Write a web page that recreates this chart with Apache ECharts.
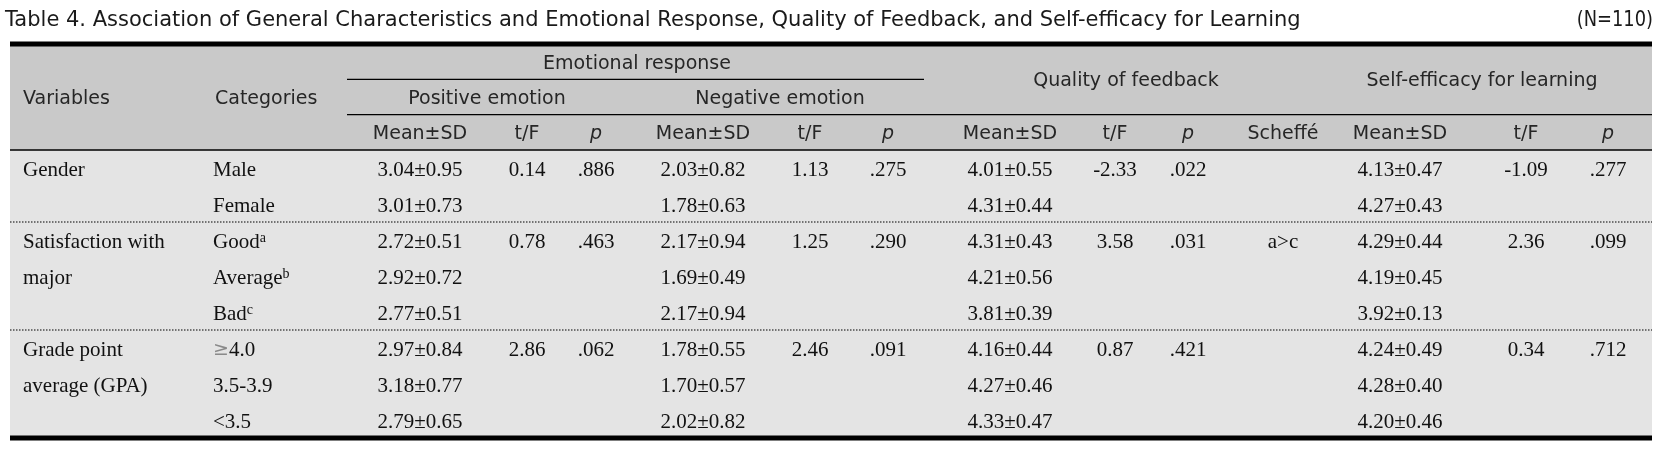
<!DOCTYPE html>
<html>
<head>
<meta charset="utf-8">
<script src="https://cdn.jsdelivr.net/npm/echarts@6/dist/echarts.min.js"></script>
<style>
  html, body { margin: 0; padding: 0; background: #fff; }
  #chart { width: 1660px; height: 454px; }
</style>
</head>
<body>
<div id="chart"></div>
<script>
// ---- table content ----
const titleText = 'Table 4. Association of General Characteristics and Emotional Response, Quality of Feedback, and Self-efficacy for Learning';
const sampleText = '(N=110)';

const variables = [['Gender'], ['Satisfaction with', 'major'], ['Grade point', 'average (GPA)']];
const variableStart = [0, 2, 5];
const categories = ['Male', 'Female', 'Good', 'Average', 'Bad', '\u22654.0', '3.5-3.9', '<3.5'];
const categorySup = ['', '', 'a', 'b', 'c', '', '', ''];

const posMean = ['3.04±0.95', '3.01±0.73', '2.72±0.51', '2.92±0.72', '2.77±0.51', '2.97±0.84', '3.18±0.77', '2.79±0.65'];
const posT = ['0.14', '', '0.78', '', '', '2.86', '', ''];
const posP = ['.886', '', '.463', '', '', '.062', '', ''];
const negMean = ['2.03±0.82', '1.78±0.63', '2.17±0.94', '1.69±0.49', '2.17±0.94', '1.78±0.55', '1.70±0.57', '2.02±0.82'];
const negT = ['1.13', '', '1.25', '', '', '2.46', '', ''];
const negP = ['.275', '', '.290', '', '', '.091', '', ''];
const fbMean = ['4.01±0.55', '4.31±0.44', '4.31±0.43', '4.21±0.56', '3.81±0.39', '4.16±0.44', '4.27±0.46', '4.33±0.47'];
const fbT = ['-2.33', '', '3.58', '', '', '0.87', '', ''];
const fbP = ['.022', '', '.031', '', '', '.421', '', ''];
const scheffe = ['', '', 'a>c', '', '', '', '', ''];
const seMean = ['4.13±0.47', '4.27±0.43', '4.29±0.44', '4.19±0.45', '3.92±0.13', '4.24±0.49', '4.28±0.40', '4.20±0.46'];
const seT = ['-1.09', '', '2.36', '', '', '0.34', '', ''];
const seP = ['.277', '', '.099', '', '', '.712', '', ''];

const subHeaders = ['Mean±SD', 't/F', 'p', 'Mean±SD', 't/F', 'p', 'Mean±SD', 't/F', 'p', 'Scheffé', 'Mean±SD', 't/F', 'p'];
const groupHeaders = ['Emotional response', 'Positive emotion', 'Negative emotion', 'Quality of feedback', 'Self-efficacy for learning'];

// ---- layout (x in px along a hidden value axis) ----
const X_MIN = 10, X_MAX = 1652;
const VAR_X = 23, CAT_X = 213;
const COL_X = [420, 527, 596, 703, 810, 888, 1010, 1115, 1188, 1283, 1400, 1526, 1608];
const GROUP_POS = [[637, 0.5], [487, 1.5], [780, 1.5], [1126, 1.0], [1482, 1.0]];
const SANS = '"DejaVu Sans", "Liberation Sans", sans-serif';
const SERIF = '"Liberation Serif", "Times New Roman", serif';
const HEAD_COLOR = '#262626';
const BODY_COLOR = '#111';
const TEXT_DY = 2; // text sits a touch below the row middle

const bodyCols = [posMean, posT, posP, negMean, negT, negP, fbMean, fbT, fbP, scheffe, seMean, seT, seP];

// header cells
const headCells = [];
headCells.push({ value: [VAR_X, 1.5], text: 'Variables', align: 'left' });
headCells.push({ value: [CAT_X + 2, 1.5], text: 'Categories', align: 'left' });
groupHeaders.forEach((g, i) => headCells.push({ value: GROUP_POS[i], text: g, align: 'center' }));
subHeaders.forEach((s, i) => headCells.push({ value: [COL_X[i], 2.5], text: s, align: 'center', italic: s === 'p' }));

// body cells
const bodyCells = [];
variables.forEach((lines, i) => {
  lines.forEach((ln, j) => bodyCells.push({ value: [VAR_X, variableStart[i] + j + 0.5], text: ln, align: 'left' }));
});
categories.forEach((c, r) => bodyCells.push({ value: [CAT_X, r + 0.5], text: c, sup: categorySup[r], align: 'left' }));
bodyCols.forEach((col, ci) => {
  col.forEach((v, r) => { if (v) bodyCells.push({ value: [COL_X[ci], r + 0.5], text: v, align: 'center' }); });
});

// horizontal rules: [x1, x2, y(row units), width, dashed]
const headRules = [[X_MIN, X_MAX, 0, 5, false], [347, 924, 1, 1.3, false], [347, X_MAX, 2, 1.3, false]];
const bodyRules = [[X_MIN, X_MAX, 0, 1.5, false], [X_MIN, X_MAX, 2, 1, true], [X_MIN, X_MAX, 5, 1, true], [X_MIN, X_MAX, 8, 5, false]];

function textRenderer(cells, font, size, color) {
  return function (params, api) {
    const c = cells[params.dataIndex];
    const pt = api.coord([api.value(0), api.value(1)]);
    const style = {
      text: c.text,
      fontFamily: font, fontSize: size, fill: color,
      fontStyle: c.italic ? 'italic' : 'normal',
      align: c.align, verticalAlign: 'middle'
    };
    const rich = {
      m: { fontFamily: font, fontSize: size, fill: color },
      s: { fontFamily: font, fontSize: 14, fill: color, verticalAlign: 'top' },
      g: { fontFamily: SANS, fontSize: size - 2, fill: '#8a8a8a' }
    };
    if (c.sup) {
      style.text = '{m|' + c.text + '}{s|' + c.sup + '}';
      style.rich = rich;
    } else if (c.text.charAt(0) === '\u2265') {
      style.text = '{g|\u2265}{m|' + c.text.slice(1) + '}';
      style.rich = rich;
    }
    return { type: 'text', x: pt[0], y: pt[1] + TEXT_DY, style: style };
  };
}

function ruleRenderer(rules) {
  return function (params, api) {
    const r = rules[params.dataIndex];
    const a = api.coord([r[0], r[2]]);
    const b = api.coord([r[1], r[2]]);
    return {
      type: 'line',
      shape: { x1: a[0], y1: a[1], x2: b[0], y2: b[1] },
      style: { stroke: '#000', lineWidth: r[3], lineDash: r[4] ? [1.5, 1.5] : null }
    };
  };
}

const chart = echarts.init(document.getElementById('chart'));
const option = {
  animation: false,
  graphic: [
    { type: 'text', x: 5, y: 21, silent: true,
      style: { text: titleText, fontFamily: SANS, fontSize: 21, fill: '#1a1a1a', align: 'left', verticalAlign: 'middle' } },
    { type: 'text', x: 1653, y: 21, scaleX: 0.85, silent: true,
      style: { text: sampleText, fontFamily: SANS, fontSize: 21, fill: '#1a1a1a', align: 'right', verticalAlign: 'middle' } }
  ],
  grid: [
    { left: X_MIN, right: 1660 - X_MAX, top: 44, height: 106, show: true, backgroundColor: '#c9c9c9', borderWidth: 0 },
    { left: X_MIN, right: 1660 - X_MAX, top: 150, height: 288, show: true, backgroundColor: '#e4e4e4', borderWidth: 0 }
  ],
  xAxis: [
    { gridIndex: 0, type: 'value', min: X_MIN, max: X_MAX, show: false },
    { gridIndex: 1, type: 'value', min: X_MIN, max: X_MAX, show: false }
  ],
  yAxis: [
    { gridIndex: 0, type: 'value', min: 0, max: 3, inverse: true, show: false },
    { gridIndex: 1, type: 'value', min: 0, max: 8, inverse: true, show: false }
  ],
  series: [
    { type: 'custom', name: 'headerText', xAxisIndex: 0, yAxisIndex: 0, clip: false, silent: true,
      data: headCells, renderItem: textRenderer(headCells, SANS, 19, HEAD_COLOR) },
    { type: 'custom', name: 'headerRules', xAxisIndex: 0, yAxisIndex: 0, clip: false, silent: true,
      data: headRules.map(r => [r[0], r[2]]), renderItem: ruleRenderer(headRules) },
    { type: 'custom', name: 'bodyText', xAxisIndex: 1, yAxisIndex: 1, clip: false, silent: true,
      data: bodyCells, renderItem: textRenderer(bodyCells, SERIF, 21, BODY_COLOR) },
    { type: 'custom', name: 'bodyRules', xAxisIndex: 1, yAxisIndex: 1, clip: false, silent: true,
      data: bodyRules.map(r => [r[0], r[2]]), renderItem: ruleRenderer(bodyRules) }
  ]
};
chart.setOption(option);
</script>
</body>
</html>
